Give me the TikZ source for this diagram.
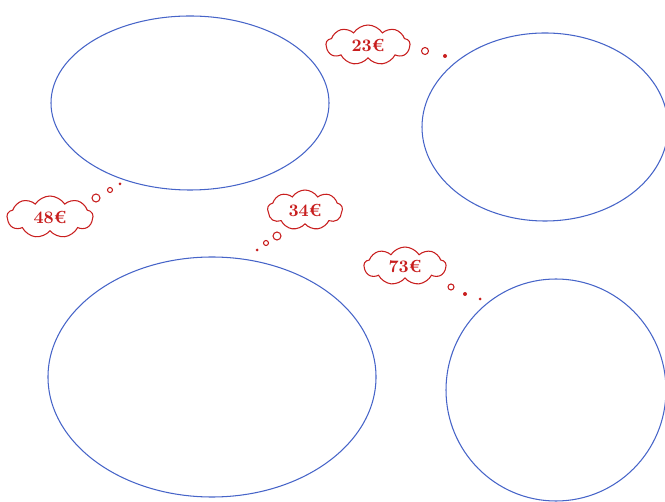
\documentclass[tikz,border=0pt]{standalone}
\usepackage{amsmath}
\usetikzlibrary{shapes.symbols}

\definecolor{setblue}{RGB}{70,100,200}
\definecolor{pricered}{RGB}{200,30,30}

\tikzset{
  price/.style={cloud, cloud puffs=9, cloud puff arc=115, aspect=2.1,
    draw=pricered, fill=white, text=pricered, inner sep=0pt, font=\normalsize\bfseries},
  bubble/.style={draw=pricered, fill=white, line width=0.6pt}
}

\begin{document}
\begin{tikzpicture}[x=0.02cm, y=-0.02cm, line width=0.6pt]
  \useasboundingbox (0,0) rectangle (665,502);

  % les quatre ensembles
  \draw[setblue] (190,103) ellipse (139 and 87);
  \draw[setblue] (545,127) ellipse (123 and 94);
  \draw[setblue] (212,377) ellipse (164 and 120);
  \draw[setblue] (556,390) ellipse (110 and 111);

  % bulle 23
  \node[price, minimum width=1.68cm, minimum height=0.8cm] (p23) at (368,45) {23€};
  \draw[bubble] (425,51) circle (3.5);
  \fill[pricered] (445,56) circle (2);

  % bulle 48
  \node[price, minimum width=1.72cm, minimum height=0.84cm] (p48) at (50,217) {48€};
  \draw[bubble] (96,198) circle (4);
  \draw[bubble] (110,190) circle (2.5);
  \fill[pricered] (120,184) circle (1.5);

  % bulle 34
  \node[price, minimum width=1.5cm, minimum height=0.8cm] (p34) at (305,210) {34€};
  \draw[bubble] (277,236) circle (4);
  \draw[bubble] (266,243) circle (2.5);
  \fill[pricered] (257,250) circle (1.5);

  % bulle 73
  \node[price, minimum width=1.64cm, minimum height=0.76cm] (p73) at (405,266) {73€};
  \draw[bubble] (451,287) circle (3);
  \fill[pricered] (465,294) circle (2);
  \fill[pricered] (480,299) circle (1.5);
\end{tikzpicture}
\end{document}
